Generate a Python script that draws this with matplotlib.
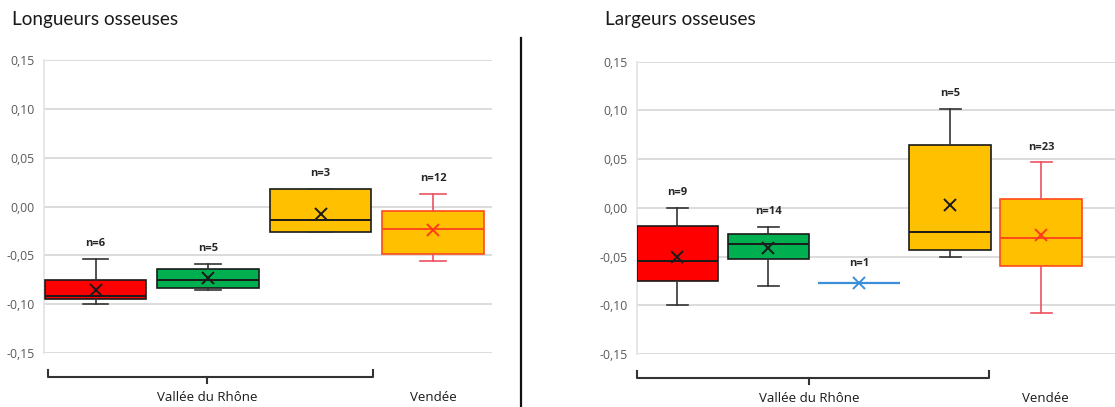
import matplotlib
matplotlib.use("Agg")
import matplotlib.pyplot as plt
from matplotlib.transforms import blended_transform_factory
from matplotlib.lines import Line2D

plt.rcParams['font.family'] = ['Open Sans', 'DejaVu Sans']

# ---------------- data ----------------
left_title = "Longueurs osseuses"
right_title = "Largeurs osseuses"
yticks = [-0.15, -0.10, -0.05, 0.00, 0.05, 0.10, 0.15]
ytick_labels = ["-0,15", "-0,10", "-0,05", "0,00", "0,05", "0,10", "0,15"]
region_labels = ["Vallée du Rhône", "Vendée"]

# Longueurs osseuses (4 groups)
L_whislo = [-0.100, -0.085, -0.026, -0.056]
L_q1     = [-0.095, -0.083, -0.026, -0.049]
L_med    = [-0.092, -0.075, -0.014, -0.023]
L_q3     = [-0.075, -0.064, 0.018, -0.005]
L_whishi = [-0.054, -0.059, 0.018, 0.013]
L_mean   = [-0.085, -0.0735, -0.0076, -0.024]
L_n      = [6, 5, 3, 12]

# Largeurs osseuses (5 groups)
R_whislo = [-0.100, -0.080, -0.0767, -0.050, -0.108]
R_q1     = [-0.0747, -0.052, -0.0767, -0.043, -0.060]
R_med    = [-0.0545, -0.037, -0.0767, -0.025, -0.031]
R_q3     = [-0.0185, -0.027, -0.0767, 0.064, 0.009]
R_whishi = [0.000, -0.0195, -0.0767, 0.1017, 0.0466]
R_mean   = [-0.050, -0.0414, -0.0767, 0.0027, -0.0277]
R_n      = [9, 14, 1, 5, 23]

L_groups = ["red", "green", "yellow", "vendee"]
R_groups = ["red", "green", "blue", "yellow", "vendee"]

# ---------------- styles ----------------
STY = {
    "red":    dict(face="#FF0000", edge="#1a1a1a", whisk="#333333", med="#1a1a1a", mean="#1a1a1a"),
    "green":  dict(face="#00B050", edge="#1a1a1a", whisk="#333333", med="#1a1a1a", mean="#1a1a1a"),
    "yellow": dict(face="#FFC000", edge="#1a1a1a", whisk="#333333", med="#1a1a1a", mean="#1a1a1a"),
    "vendee": dict(face="#FFC000", edge="#FF4A1A", whisk="#EE5060", med="#FF4A1A", mean="#FF3A1A"),
    "blue":   dict(face="none", edge="#3A8FD8", whisk="#3A8FD8", med="#3A8FD8", mean="#3A8FD8"),
}

W, H = 1115, 407
fig = plt.figure(figsize=(W / 100, H / 100), dpi=100)


def px_axes(x0, x1, ytop, ybot):
    return fig.add_axes([x0 / W, (H - ybot) / H, (x1 - x0) / W, (ybot - ytop) / H])


def draw_panel(ax, groups, whislo, q1, med, q3, whishi, mean, n, xlim):
    ax.set_xlim(*xlim)
    ax.set_ylim(-0.15, 0.15)
    for i, g in enumerate(groups):
        s = STY[g]
        stats = [dict(whislo=whislo[i], q1=q1[i], med=med[i], q3=q3[i],
                      whishi=whishi[i], mean=mean[i])]
        lw_box = 1.6 if g == "blue" else 1.2
        ax.bxp(stats, positions=[i], widths=0.9, patch_artist=True,
               showmeans=True, showfliers=False, manage_ticks=False,
               showcaps=(g != "blue"), capwidths=0.23,
               boxprops=dict(facecolor=s["face"], edgecolor=s["edge"], linewidth=lw_box),
               whiskerprops=dict(color=s["whisk"], linewidth=1.2),
               capprops=dict(color=s["whisk"], linewidth=1.2),
               medianprops=dict(color=s["med"], linewidth=1.4),
               meanprops=dict(marker="x", markeredgecolor=s["mean"], markersize=8,
                              markeredgewidth=1.4, linestyle="none"),
               zorder=3)
        off = 14 if g == "blue" else 11
        ax.annotate(f"n={n[i]}", xy=(i, whishi[i]), xytext=(0, off),
                    textcoords="offset points", ha="center", va="center",
                    fontsize=8, fontweight="bold", color="#262626")
    ax.set_yticks(yticks)
    ax.set_yticklabels(ytick_labels, fontsize=8.8, color="#595959")
    ax.set_xticks([])
    ax.tick_params(axis="y", length=0, pad=7)
    ax.grid(axis="y", color="#D9D9D9", linewidth=1.3, zorder=0)
    ax.set_axisbelow(True)
    for sp in ["top", "right", "bottom"]:
        ax.spines[sp].set_visible(False)
    ax.spines["left"].set_color("#E3E3E3")
    ax.spines["left"].set_linewidth(1.2)


def bracket(ax, x0, x1, xc, xv):
    tr = blended_transform_factory(ax.transData, ax.transAxes)
    col = "#333333"
    ax.add_line(Line2D([x0, x0, x1, x1], [-0.058, -0.082, -0.082, -0.058],
                       transform=tr, color=col, lw=1.5, clip_on=False))
    ax.add_line(Line2D([xc, xc], [-0.082, -0.104], transform=tr,
                       color=col, lw=1.5, clip_on=False))
    ax.text(xc, -0.153, region_labels[0], transform=tr, ha="center", va="center",
            fontsize=9.5, color="#1a1a1a")
    ax.text(xv, -0.153, region_labels[1], transform=tr, ha="center", va="center",
            fontsize=9.5, color="#1a1a1a")


# Left panel
axL = px_axes(44, 492, 60, 353)
draw_panel(axL, L_groups, L_whislo, L_q1, L_med, L_q3, L_whishi, L_mean, L_n,
           (-0.458, 3.524))
bracket(axL, -0.42, 2.47, 0.99, 3.0)

# Right panel
axR = px_axes(637, 1115, 61.7, 354)
draw_panel(axR, R_groups, R_whislo, R_q1, R_med, R_q3, R_whishi, R_mean, R_n,
           (-0.445, 4.81))
bracket(axR, -0.44, 3.42, 1.445, 4.04)

# Titles
fig.text(12 / W, 1 - 19 / H, left_title, ha="left", va="center", fontsize=13.6,
         family=["Lato", "DejaVu Sans"], color="#1a1a1a")
fig.text(605 / W, 1 - 19 / H, right_title, ha="left", va="center", fontsize=13.6,
         family=["Lato", "DejaVu Sans"], color="#1a1a1a")

# Separator line
fig.add_artist(Line2D([521 / W, 521 / W], [0, 1 - 38 / H], transform=fig.transFigure,
                      color="#111111", lw=1.6))

fig.savefig("out.png", dpi=100)
